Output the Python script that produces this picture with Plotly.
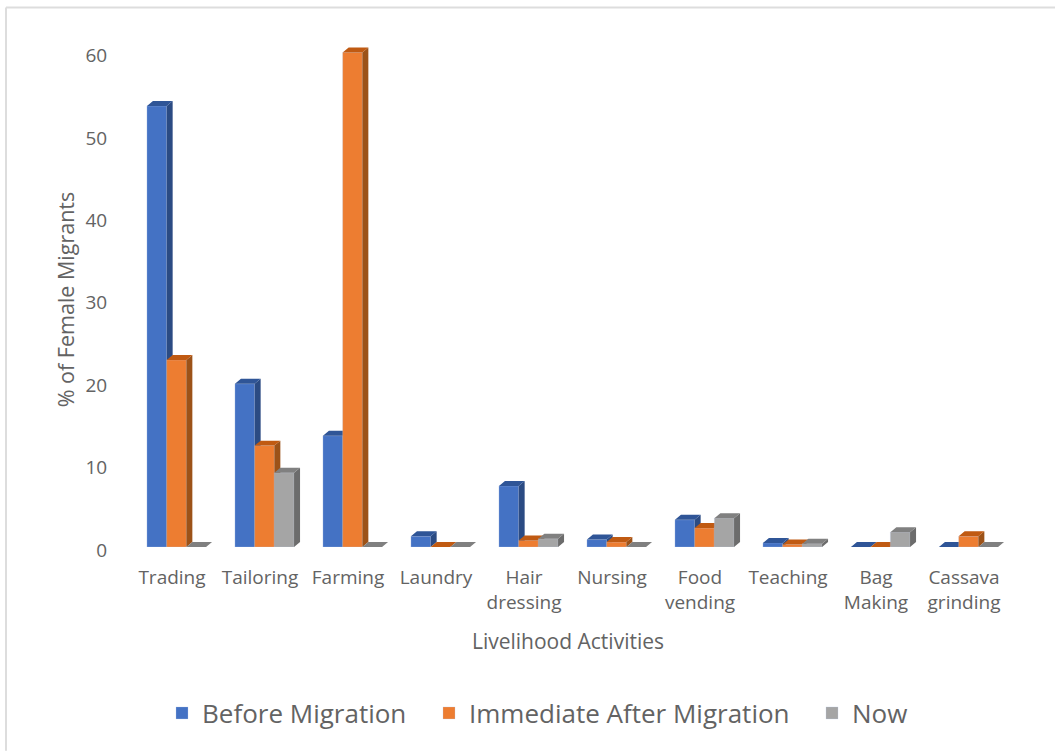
import plotly.graph_objects as go

categories = ["Trading", "Tailoring", "Farming", "Laundry", "Hair<br>dressing", "Nursing",
              "Food<br>vending", "Teaching", "Bag<br>Making", "Cassava<br>grinding"]
before_migration = [53.5, 19.8, 13.5, 1.3, 7.4, 0.9, 3.3, 0.5, 0.0, 0.0]
immediate_after = [22.7, 12.3, 60.0, 0.0, 0.8, 0.6, 2.3, 0.3, 0.0, 1.3]
now = [0.0, 9.0, 0.0, 0.0, 1.0, 0.0, 3.5, 0.4, 1.8, 0.0]
y_ticks = [0, 10, 20, 30, 40, 50, 60]

series = [
    ("Before Migration", before_migration, "#4472C4", "#2B4B83", "#2F5597"),
    ("Immediate After Migration", immediate_after, "#ED7D31", "#9C5218", "#C05A12"),
    ("Now", now, "#A5A5A5", "#6C6C6C", "#808080"),
]

W, H = 1055, 751
LEFT, RIGHT, BASE, TOP = 128, 1008, 547, 35.5
Y_MAX = 62
BAND = (RIGHT - LEFT) / len(categories)
UNIT = (BASE - TOP) / Y_MAX
BAR_W = 19.7 / BAND
SHIFT = 4.5 / BAND
DX = 6 / BAND
DY = 5 / UNIT
FONT = "Open Sans"
TXT = "#636363"
LEGEND_LEFT = [162, 429, 812]


def px_x(p):
    return (p - LEFT) / (RIGHT - LEFT)


def px_y(p):
    return (BASE - p) / (BASE - TOP)


fig = go.Figure()
for s, (name, vals, front, side, top) in enumerate(series):
    suffix = "" if s == 0 else str(s + 1)
    xa, ya = "x" + suffix, "y" + suffix
    xs = [i + SHIFT + (s - 1) * BAR_W for i in range(len(vals))]
    fig.add_trace(go.Bar(x=xs, y=vals, width=BAR_W, name=name, xaxis=xa, yaxis=ya,
                         legend="legend" + suffix,
                         marker=dict(color=front, line=dict(color="rgba(190,205,235,0.35)", width=0.8))))
    sx, sy, tx, ty = [], [], [], []
    for x, v in zip(xs, vals):
        l, r = x - BAR_W / 2, x + BAR_W / 2
        if v > 0:
            sx += [r, r + DX, r + DX, r, r, None]
            sy += [0, DY, v + DY, v, 0, None]
        tx += [l, l + DX, r + DX, r, l, None]
        ty += [v, v + DY, v + DY, v, v, None]
    for px, py, col in ((sx, sy, side), (tx, ty, top)):
        fig.add_trace(go.Scatter(x=px, y=py, mode="lines", fill="toself", fillcolor=col,
                                 line=dict(width=0, color=col), xaxis=xa, yaxis=ya,
                                 showlegend=False, hoverinfo="skip"))

axis_x = dict(range=[-0.5, len(categories) - 0.5], showgrid=False, zeroline=False, showline=False)
axis_y = dict(range=[0, Y_MAX], showgrid=False, zeroline=False, showline=False)


def legend_at(left):
    return dict(orientation="h", x=px_x(left), xanchor="left", y=1 - 713 / H, yanchor="middle",
                xref="paper", yref="container", font=dict(size=26, color=TXT),
                itemclick=False, itemdoubleclick=False, bgcolor="rgba(0,0,0,0)")


fig.update_layout(
    width=W, height=H, autosize=False,
    margin=dict(l=LEFT, r=W - RIGHT, t=TOP, b=H - BASE, pad=0),
    paper_bgcolor="white", plot_bgcolor="white", barmode="overlay",
    font=dict(family=FONT, color=TXT, size=19),
    xaxis=dict(axis_x, tickmode="array", tickvals=list(range(len(categories))), ticktext=categories,
               ticks="outside", ticklen=13, tickcolor="rgba(0,0,0,0)",
               tickfont=dict(size=19, color=TXT),
               title=dict(text="Livelihood Activities", font=dict(size=21, color=TXT), standoff=20)),
    yaxis=dict(axis_y, tickmode="array", tickvals=y_ticks, ticklabelshift=3,
               ticks="outside", ticklen=16, tickcolor="rgba(0,0,0,0)",
               tickfont=dict(size=19, color=TXT)),
    xaxis2=dict(axis_x, overlaying="x", visible=False),
    yaxis2=dict(axis_y, overlaying="y", visible=False),
    xaxis3=dict(axis_x, overlaying="x", visible=False),
    yaxis3=dict(axis_y, overlaying="y", visible=False),
    legend=legend_at(LEGEND_LEFT[0]),
    legend2=legend_at(LEGEND_LEFT[1]),
    legend3=legend_at(LEGEND_LEFT[2]),
    annotations=[dict(text="% of Female Migrants", xref="paper", yref="paper", showarrow=False,
                      x=px_x(65), y=px_y(300), xanchor="center", yanchor="middle",
                      textangle=-90, font=dict(size=21.5, color=TXT))],
    shapes=[
        dict(type="line", xref="paper", yref="paper", x0=px_x(6), x1=px_x(W),
             y0=px_y(7), y1=px_y(7), line=dict(color="#DDDDDD", width=2)),
        dict(type="line", xref="paper", yref="paper", x0=px_x(6), x1=px_x(6),
             y0=px_y(7), y1=px_y(H), line=dict(color="#DDDDDD", width=2)),
    ],
)
fig.write_html("out.html", config={"displayModeBar": False},
               post_script="document.body.style.margin='0';")
